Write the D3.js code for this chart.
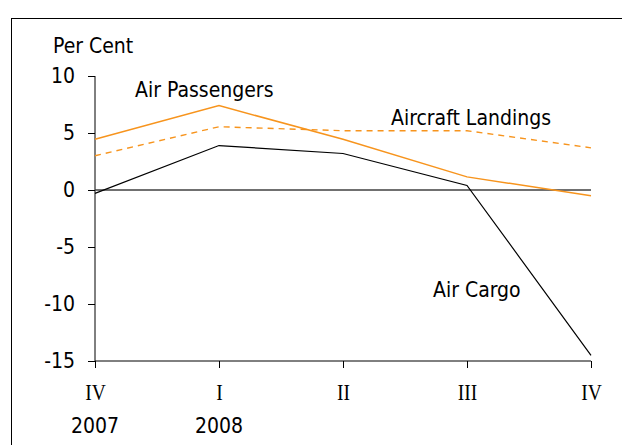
<!DOCTYPE html>
<html>
<head>
<meta charset="utf-8">
<script src="https://cdn.jsdelivr.net/npm/d3@7"></script>
<style>
  body { margin: 0; background: #fff; }
  svg text { font-family: "DejaVu Sans Condensed", "DejaVu Sans", Tahoma, sans-serif; font-size: 21px; fill: #000; }
  .roman text { font-family: "Liberation Serif", "Times New Roman", serif; font-size: 23px; }
</style>
</head>
<body>
<svg id="chart" width="622" height="445"></svg>
<script>
// quarters, Q4 2007 .. Q4 2008
var quarters = ["IV", "I", "II", "III", "IV"];
var years = ["2007", "2008", "", "", ""];
var yTicks = [10, 5, 0, -5, -10, -15];

// per cent change
var airPassengers    = [4.45, 7.4, 4.45, 1.15, -0.5];
var aircraftLandings = [3.0, 5.55, 5.2, 5.2, 3.7];
var airCargo         = [-0.3, 3.9, 3.2, 0.4, -14.5];

var svg = d3.select("#chart");

svg.append("rect")
    .attr("x", 11.5).attr("y", 18.5)
    .attr("width", 620).attr("height", 440)
    .attr("fill", "none").attr("stroke", "#000").attr("stroke-width", 1);

var x = d3.scalePoint().domain(d3.range(quarters.length)).range([95, 591]);
var y = d3.scaleLinear().domain([-15, 10]).range([361, 76]);

// y axis
var yAxis = svg.append("g")
    .attr("transform", "translate(95,0)")
    .call(d3.axisLeft(y).tickValues(yTicks).tickSize(7).tickPadding(13).tickFormat(String));
yAxis.select(".domain").attr("d", "M0," + y(10) + "V" + y(-15));
yAxis.selectAll("text").style("font-size", "21px").style("font-family", null);

// x axis (sits at -15)
var xAxis = svg.append("g")
    .attr("class", "roman")
    .attr("transform", "translate(0," + y(-15) + ")")
    .call(d3.axisBottom(x).tickSize(7).tickPadding(16).tickFormat(function(i) { return quarters[i]; }));
xAxis.select(".domain").attr("d", "M" + x(0) + ",0H" + x(4));
xAxis.selectAll("text").style("font-family", null).style("font-size", null)
    .attr("transform", function() { return "scale(0.85,1)"; })
    .attr("x", function(i) { return 0; });

svg.append("g").selectAll("text.year")
    .data(years)
    .enter().append("text")
    .attr("class", "year")
    .attr("x", function(d, i) { return x(i); })
    .attr("y", 433)
    .attr("text-anchor", "middle")
    .text(function(d) { return d; });

// zero line
svg.append("line")
    .attr("x1", x(0)).attr("x2", x(4))
    .attr("y1", y(0)).attr("y2", y(0))
    .attr("stroke", "#404040").attr("stroke-width", 1.6);

var line = d3.line()
    .x(function(d, i) { return x(i); })
    .y(function(d) { return y(d); });

svg.append("path").datum(aircraftLandings)
    .attr("d", line).attr("fill", "none")
    .attr("stroke", "#f7941d").attr("stroke-width", 1.4).attr("stroke-dasharray", "6,5");

svg.append("path").datum(airPassengers)
    .attr("d", line).attr("fill", "none")
    .attr("stroke", "#f7941d").attr("stroke-width", 1.5);

svg.append("path").datum(airCargo)
    .attr("d", line).attr("fill", "none")
    .attr("stroke", "#000").attr("stroke-width", 1.2);

// labels
svg.append("text").attr("x", 53).attr("y", 53).text("Per Cent");
svg.append("text").attr("x", 135).attr("y", 97).text("Air Passengers");
svg.append("text").attr("x", 391).attr("y", 125).text("Aircraft Landings");
svg.append("text").attr("x", 433).attr("y", 297).text("Air Cargo");
</script>
</body>
</html>
